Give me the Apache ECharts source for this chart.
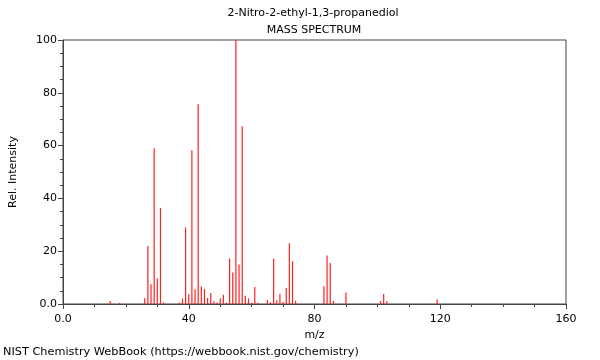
<!DOCTYPE html>
<html>
<head>
<meta charset="utf-8">
<script src="https://cdn.jsdelivr.net/npm/echarts@6/dist/echarts.min.js"></script>
<style>
html,body{margin:0;padding:0;background:#fff;}
#chart{width:600px;height:360px;}
</style>
</head>
<body>
<div id="chart"></div>
<script>
const titleLines = ["2-Nitro-2-ethyl-1,3-propanediol", "MASS SPECTRUM"];
const xTitle = "m/z";
const yTitle = "Rel. Intensity";
const footer = "NIST Chemistry WebBook (https://webbook.nist.gov/chemistry)";
const mz = [15, 18, 26, 27, 28, 29, 30, 31, 32, 37, 38, 39, 40, 41, 42, 43, 44, 45, 46, 47, 48, 49, 50, 51, 52, 53, 54, 55, 56, 57, 58, 59, 60, 61, 62, 65, 66, 67, 68, 69, 70, 71, 72, 73, 74, 83, 84, 85, 86, 90, 101, 102, 103, 119];
const intensity = [1.1, 0.4, 2.2, 22, 7.5, 59, 9.7, 36.4, 0.6, 0.6, 2.0, 29, 3.7, 58.2, 5.6, 75.7, 6.6, 5.7, 2.3, 4.2, 1.0, 0.6, 2.1, 3.5, 0.5, 17.2, 11.9, 100, 15, 67.3, 3.1, 2.1, 0.5, 6.4, 0.5, 1.5, 0.6, 17.2, 1.4, 3.9, 0.8, 6.1, 23, 16.2, 1.1, 6.7, 18.4, 15.5, 1.1, 4.4, 1.1, 3.8, 1.0, 1.8];
const xTicks = [0, 40, 80, 120, 160];
const yTicks = [0, 20, 40, 60, 80, 100];

const font = "DejaVu Sans";
const fmt = v => v === 0 ? "0.0" : String(v);
const chart = echarts.init(document.getElementById('chart'), null, {renderer: 'canvas'});
chart.setOption({
  animation: false,
  backgroundColor: '#fff',
  title: [
    {text: titleLines[0], left: 313, top: 8, padding: 0, textAlign: 'center', textStyle: {fontFamily: font, fontSize: 11, fontWeight: 'normal', color: '#000'}},
    {text: titleLines[1], left: 314, top: 25, padding: 0, textAlign: 'center', textStyle: {fontFamily: font, fontSize: 11, fontWeight: 'normal', color: '#000'}},
    {text: footer, left: 3, top: 347, padding: 0, textStyle: {fontFamily: font, fontSize: 11.3, fontWeight: 'normal', color: '#000'}}
  ],
  grid: {left: 62, right: 34, top: 40, bottom: 56, show: true, borderColor: '#444', borderWidth: 1, backgroundColor: 'transparent'},
  xAxis: {
    type: 'value', min: xTicks[0], max: xTicks[xTicks.length - 1], interval: 40,
    name: xTitle, nameLocation: 'middle', nameGap: 23,
    nameTextStyle: {fontFamily: font, fontSize: 11, color: '#000'},
    axisLine: {show: true, onZero: false, lineStyle: {color: '#444'}},
    axisTick: {show: true, length: 5, lineStyle: {color: '#444'}},
    minorTick: {show: true, splitNumber: 4, length: 3, lineStyle: {color: '#444'}},
    axisLabel: {formatter: fmt, fontFamily: font, fontSize: 11, color: '#000', margin: 10},
    splitLine: {show: false}
  },
  yAxis: {
    type: 'value', min: yTicks[0], max: yTicks[yTicks.length - 1], interval: 20,
    name: yTitle, nameLocation: 'middle', nameGap: 44, nameRotate: 90,
    nameTextStyle: {fontFamily: font, fontSize: 11, color: '#000'},
    axisLine: {show: true, lineStyle: {color: '#444'}},
    axisTick: {show: true, length: 5, lineStyle: {color: '#444'}},
    minorTick: {show: true, splitNumber: 4, length: 3, lineStyle: {color: '#444'}},
    axisLabel: {formatter: fmt, fontFamily: font, fontSize: 11, color: '#000', margin: 6},
    splitLine: {show: false}
  },
  series: [{
    type: 'bar',
    data: mz.map((m, i) => [m, intensity[i]]),
    barWidth: 1.2,
    itemStyle: {color: '#ff2020'},
    silent: true
  }]
});
</script>
</body>
</html>
